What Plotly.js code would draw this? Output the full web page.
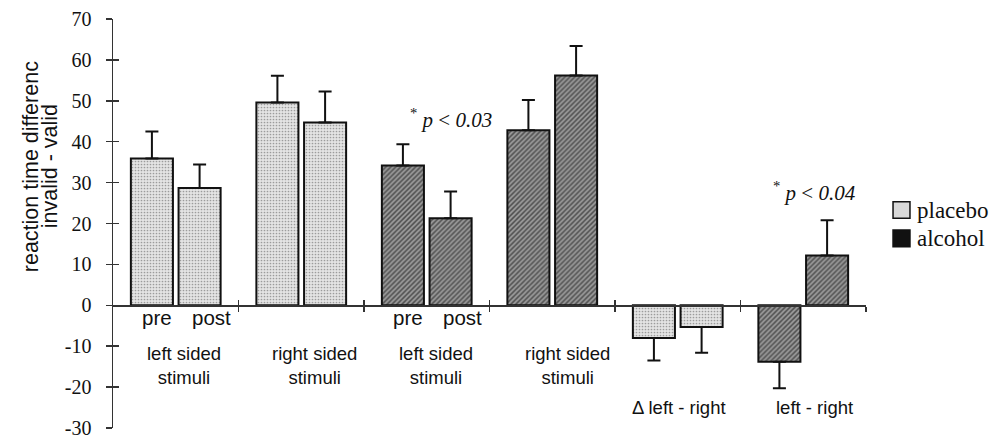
<!DOCTYPE html>
<html>
<head>
<meta charset="utf-8">
<script src="https://cdn.plot.ly/plotly-3.0.1.min.js"></script>
<style>html,body{margin:0;padding:0;background:#fff;}#chart{width:1005px;height:437px;}</style>
</head>
<body>
<div id="chart"></div>
<script>
// ---- data ----
var groupLabels = ['left sided<br>stimuli', 'right sided<br>stimuli', 'left sided<br>stimuli', 'right sided<br>stimuli', '\u0394 left - right', 'left - right'];
var groupCondition = ['placebo', 'placebo', 'alcohol', 'alcohol', 'placebo', 'alcohol'];
var preMeans  = [35.9, 49.6, 34.2, 42.8, -8.0, -13.8];
var postMeans = [28.7, 44.7, 21.3, 56.2, -5.3, 12.2];
var preErr    = [6.6, 6.5, 5.2, 7.4, 5.5, 6.5];
var postErr   = [5.7, 7.6, 6.5, 7.2, 6.3, 8.6];
var sessionLabels = ['pre', 'post'];
var sessionLabelGroups = [0, 2];
var yTicks = [-30, -20, -10, 0, 10, 20, 30, 40, 50, 60, 70];
var xTicks = [1, 2, 3, 4, 5, 6];
var pNoteGroups = [2, 5];
var pNoteTexts = ['<sup>*</sup> <i>p</i> < <i>0.03</i>', '<sup>*</sup> <i>p</i> < <i>0.04</i>'];
var legendNames = ['placebo', 'alcohol'];
var yTitleLines = ['reaction time differenc', 'invalid - valid'];

// ---- style / placement ----
var BAR_OFF = 0.19, BAR_W = 0.335;
var pNoteY = [45.7, 27.9], pNoteShift = [24, 11];
var groupLabelShift = [8, 13, 9, 15, 1, 11];
var styles = {
  placebo: {color: '#dcdcdc', pattern: {shape: '.', fgcolor: '#9c9c9c', bgcolor: '#e4e4e4', size: 3, solidity: 0.25}},
  alcohol: {color: '#8a8a8a', pattern: {shape: '/', fgcolor: '#505050', bgcolor: '#9a9a9a', size: 3.5, solidity: 0.45}}
};
var axisSet = {placebo: ['x', 'y'], alcohol: ['x2', 'y2']};

function buildTrace(cond) {
  var x = [], y = [], up = [], down = [];
  for (var i = 0; i < groupCondition.length; i++) {
    if (groupCondition[i] !== cond) continue;
    var vals = [preMeans[i], postMeans[i]], errs = [preErr[i], postErr[i]];
    for (var k = 0; k < 2; k++) {
      x.push(i + 0.5 + (k === 0 ? -BAR_OFF : BAR_OFF));
      y.push(vals[k]);
      up.push(vals[k] >= 0 ? errs[k] : 0);
      down.push(vals[k] < 0 ? errs[k] : 0);
    }
  }
  return {
    type: 'bar', name: cond, x: x, y: y, width: BAR_W, showlegend: false, hoverinfo: 'skip',
    xaxis: axisSet[cond][0], yaxis: axisSet[cond][1],
    marker: {color: styles[cond].color, pattern: styles[cond].pattern, line: {color: '#111', width: 2}},
    error_y: {type: 'data', symmetric: false, array: up, arrayminus: down, color: '#111', thickness: 2, width: 6.5}
  };
}

var traces = [buildTrace('placebo'), buildTrace('alcohol')];

var sans = 'Liberation Sans';
var serif = 'Liberation Serif';
var annotations = [];
for (var i = 0; i < groupLabels.length; i++) {
  var twoLine = groupLabels[i].indexOf('<br>') >= 0;
  annotations.push({x: i + 0.5, y: twoLine ? -14.6 : -24.9, xref: 'x', yref: 'y', text: groupLabels[i], showarrow: false,
    xanchor: 'center', yanchor: 'middle', xshift: groupLabelShift[i], font: {family: sans, size: 18.5, color: '#111'}});
}
sessionLabelGroups.forEach(function (g) {
  sessionLabels.forEach(function (s, k) {
    annotations.push({x: g + 0.5 + (k === 0 ? -BAR_OFF : BAR_OFF), y: -2.9, xref: 'x', yref: 'y', text: s, showarrow: false,
      xanchor: 'center', yanchor: 'middle', xshift: (k === 0 ? 5 : 12), font: {family: sans, size: 20.5, color: '#111'}});
  });
});
pNoteGroups.forEach(function (g, k) {
  annotations.push({x: g + 0.5, y: pNoteY[k], xref: 'x', yref: 'y', text: pNoteTexts[k], showarrow: false,
    xanchor: 'center', yanchor: 'middle', xshift: pNoteShift[k], font: {family: serif, size: 21, color: '#111'}});
});
var titleX = [-0.1089, -0.0837];
yTitleLines.forEach(function (t, k) {
  annotations.push({x: titleX[k], y: 34.0, xref: 'paper', yref: 'y', text: t, showarrow: false,
    textangle: -90, xanchor: 'center', yanchor: 'middle', font: {family: sans, size: 21.5, color: '#111'}});
});
var legY = [0.533, 0.4645];
legendNames.forEach(function (n, k) {
  annotations.push({x: 1.0651, y: legY[k], xref: 'paper', yref: 'paper', text: n, showarrow: false,
    xanchor: 'left', yanchor: 'middle', font: {family: serif, size: 23, color: '#111'}});
});

var shapes = [
  {type: 'rect', xref: 'paper', yref: 'paper', x0: 1.0359, x1: 1.0584, y0: 0.5127, y1: 0.5533, fillcolor: '#d8d8d8', line: {color: '#111', width: 1.5}},
  {type: 'rect', xref: 'paper', yref: 'paper', x0: 1.0359, x1: 1.0584, y0: 0.4433, y1: 0.4841, fillcolor: '#111', line: {color: '#111', width: 1.5}}
];

var xBase = {range: [0, 6], anchor: 'free', position: 0.3, tickmode: 'array', tickvals: xTicks, showticklabels: false,
  ticklen: 5, tickcolor: '#333', tickwidth: 1.5, showgrid: false, zeroline: false, fixedrange: true};
var yBase = {range: [-30, 70], tickmode: 'array', tickvals: yTicks, ticklen: 6, tickcolor: '#333', tickwidth: 1.5,
  showgrid: false, zeroline: false, fixedrange: true};

var layout = {
  width: 1005, height: 437,
  margin: {l: 113, r: 139, t: 19, b: 9},
  paper_bgcolor: '#fff', plot_bgcolor: '#fff',
  font: {family: serif, size: 20, color: '#111'},
  barmode: 'overlay',
  showlegend: false,
  xaxis: Object.assign({}, xBase, {ticks: 'outside', showline: true, linecolor: '#333', linewidth: 1.5}),
  xaxis2: Object.assign({}, xBase, {ticks: 'inside', overlaying: 'x', showline: false}),
  yaxis: Object.assign({}, yBase, {ticks: 'outside', showline: true, linecolor: '#333', linewidth: 1.5,
    ticktext: yTicks.map(String), ticklabelstandoff: 10, ticklabeloverflow: 'allow',
    tickfont: {family: serif, size: 20, color: '#111'}}),
  yaxis2: Object.assign({}, yBase, {ticks: 'inside', overlaying: 'y', anchor: 'x', side: 'left', showticklabels: false, showline: false}),
  annotations: annotations,
  shapes: shapes
};

Plotly.newPlot('chart', traces, layout, {displayModeBar: false, staticPlot: true});
</script>
</body>
</html>
